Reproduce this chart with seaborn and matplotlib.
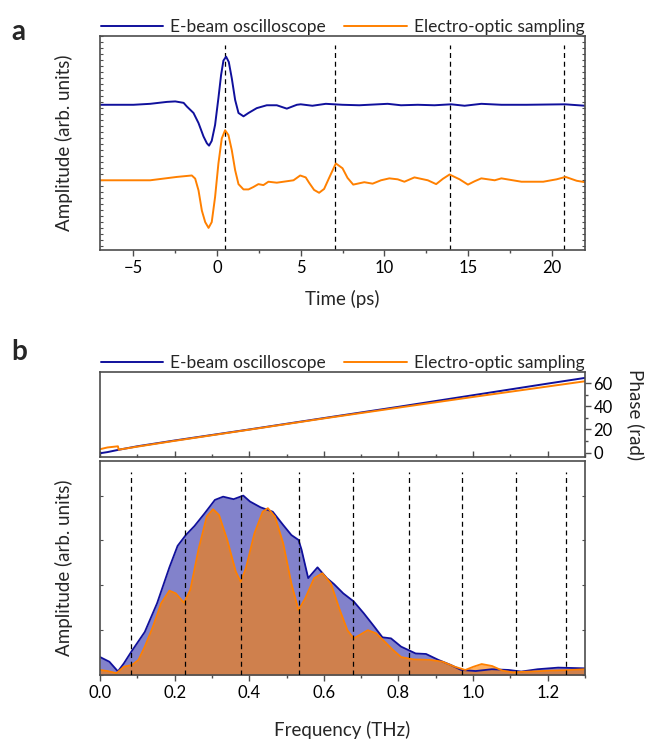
"""THz pulse: time traces and spectra, e-beam oscilloscope vs electro-optic sampling."""

import matplotlib
matplotlib.use("Agg")
import matplotlib.pyplot as plt
import numpy as np
import pandas as pd
import seaborn as sns
from matplotlib.ticker import MultipleLocator, NullFormatter

BLUE = "#10109c"
ORANGE = "#ff8000"
SPINE = "#4d4d4d"

# ---- panel a: time traces (ps, arb. amplitude) ----
time_blue = [-7, -5, -4, -3, -2.5, -2.0, -1.81, -1.41, -1.11, -0.81, -0.61, -0.48, -0.32,
             -0.12, 0.08, 0.24, 0.38, 0.54, 0.70, 0.88, 1.08, 1.28, 1.58, 1.88, 2.37, 2.97,
             3.57, 4.17, 4.77, 5.0, 5.7, 6.5, 7.5, 8.5, 10.2, 11.0, 12.0, 13.0, 14.0, 14.8,
             15.8, 17.0, 18.5, 20.8, 22]
amp_blue = [0.0, 0.0, 0.02, 0.06, 0.07, 0.04, -0.035, -0.17, -0.38, -0.66, -0.80, -0.85,
            -0.75, -0.42, 0.14, 0.62, 0.92, 1.0, 0.89, 0.55, 0.10, -0.17, -0.24, -0.17, -0.07,
            -0.01, -0.01, -0.08, 0.0, 0.01, -0.02, 0.02, 0.0, -0.01, 0.02, -0.01, 0.0, -0.01,
            0.01, -0.02, 0.02, 0.0, 0.0, 0.01, -0.02]

time_orange = [-7, -4, -2.4, -1.51, -1.31, -1.11, -0.91, -0.71, -0.51, -0.32, -0.12, 0.08,
               0.28, 0.48, 0.68, 0.88, 1.08, 1.28, 1.58, 1.88, 2.17, 2.47, 2.77, 3.07, 3.57,
               3.97, 4.57, 4.97, 5.3, 5.5, 5.8, 6.1, 6.4, 6.7, 7.1, 7.5, 7.8, 8.14, 8.8, 9.3,
               9.8, 10.3, 10.8, 11.2, 11.8, 12.6, 13.1, 13.5, 13.9, 14.5, 15.0, 15.4, 15.8,
               16.6, 17.0, 18.2, 19.5, 20.3, 20.84, 21.5, 22]
amp_orange = [0.0, 0.0, 0.07, 0.10, 0.035, -0.21, -0.63, -0.87, -0.99, -0.87, -0.35, 0.35,
              0.87, 1.04, 0.94, 0.625, 0.21, -0.08, -0.19, -0.19, -0.14, -0.08, -0.10, -0.03,
              -0.05, -0.03, 0.0, 0.10, 0.06, -0.05, -0.2, -0.26, -0.18, 0.05, 0.35, 0.25, 0.05,
              -0.09, -0.04, -0.07, 0.0, 0.04, 0.02, -0.03, 0.06, 0.0, -0.08, 0.03, 0.12, 0.02,
              -0.09, -0.02, 0.04, 0.0, 0.04, -0.03, -0.03, 0.02, 0.07, -0.01, -0.04]
offset_blue = 1.57
time_markers = [0.5, 7.05, 13.9, 20.76]

# ---- panel b: phase (rad) ----
freq_phase_blue = [0.0, 0.02, 0.05, 0.1, 0.2, 0.4, 0.6, 0.8, 1.0, 1.2, 1.3]
phase_blue = [-0.5, 0.5, 2.5, 5.5, 10.5, 20.0, 29.8, 39.5, 49.5, 59.5, 64.4]
freq_phase_orange = [0.0, 0.02, 0.048, 0.05, 0.1, 0.2, 0.4, 0.6, 0.8, 1.0, 1.2, 1.3]
phase_orange = [3.0, 4.5, 5.5, 2.6, 5.2, 10.2, 19.8, 29.5, 38.8, 48.0, 57.0, 61.5]

# ---- panel b: spectral amplitude ----
freq_blue = [0.0, 0.025, 0.048, 0.064, 0.084, 0.12, 0.153, 0.186, 0.208, 0.23, 0.253, 0.28,
             0.308, 0.33, 0.358, 0.384, 0.402, 0.43, 0.463, 0.491, 0.513, 0.532, 0.54, 0.558,
             0.583, 0.608, 0.627, 0.652, 0.68, 0.707, 0.735, 0.757, 0.78, 0.807, 0.846, 0.874,
             0.907, 0.94, 0.968, 1.007, 1.05, 1.095, 1.129, 1.173, 1.228, 1.3]
spec_blue = [0.10, 0.074, 0.02, 0.065, 0.13, 0.24, 0.40, 0.60, 0.72, 0.78, 0.83, 0.90,
             0.976, 0.994, 0.98, 1.0, 0.967, 0.935, 0.91, 0.836, 0.78, 0.753, 0.70, 0.54,
             0.60, 0.54, 0.507, 0.455, 0.41, 0.344, 0.27, 0.21, 0.204, 0.158, 0.12, 0.117,
             0.084, 0.056, 0.028, 0.022, 0.032, 0.028, 0.019, 0.032, 0.041, 0.037]

freq_orange = [0.0, 0.02, 0.044, 0.064, 0.086, 0.103, 0.12, 0.142, 0.164, 0.186, 0.203, 0.225,
               0.242, 0.264, 0.286, 0.303, 0.319, 0.341, 0.364, 0.377, 0.391, 0.414, 0.436,
               0.45, 0.469, 0.491, 0.513, 0.532, 0.55, 0.574, 0.596, 0.619, 0.641, 0.663, 0.68,
               0.696, 0.718, 0.74, 0.763, 0.785, 0.807, 0.84, 0.885, 0.918, 0.951, 0.979,
               1.001, 1.023, 1.051, 1.079, 1.106, 1.151, 1.206, 1.262, 1.3]
spec_orange = [0.028, 0.022, 0.01, 0.046, 0.056, 0.084, 0.158, 0.27, 0.40, 0.47, 0.455, 0.403,
               0.474, 0.70, 0.883, 0.924, 0.892, 0.753, 0.576, 0.52, 0.595, 0.79, 0.91, 0.93,
               0.883, 0.734, 0.51, 0.362, 0.427, 0.54, 0.567, 0.51, 0.372, 0.25, 0.204, 0.223,
               0.25, 0.232, 0.186, 0.14, 0.10, 0.087, 0.084, 0.074, 0.046, 0.028, 0.046, 0.061,
               0.05, 0.024, 0.015, 0.019, 0.024, 0.028, 0.032]
freq_markers = [0.084, 0.228, 0.378, 0.533, 0.678, 0.827, 0.969, 1.114, 1.249]

LABELS = ["E-beam oscilloscope", "Electro-optic sampling"]

sns.set_theme(style="ticks")
plt.rcParams["font.family"] = ["Lato", "DejaVu Sans"]
plt.rcParams.update({
    "font.size": 12.5,
    "axes.labelsize": 13.5,
    "xtick.labelsize": 12,
    "ytick.labelsize": 12,
    "legend.fontsize": 12.5,
    "axes.edgecolor": SPINE,
    "axes.linewidth": 1.2,
    "xtick.color": SPINE,
    "ytick.color": SPINE,
    "xtick.labelcolor": "black",
    "ytick.labelcolor": "black",
})

fig = plt.figure(figsize=(6.49, 7.41), dpi=100)
left, width = 0.1541, 0.7473
ax_t = fig.add_axes([left, 0.6626, width, 0.2888])
ax_ph = fig.add_axes([left, 0.3833, width, 0.1147])
ax_sp = fig.add_axes([left, 0.0891, width, 0.2888])

dash = (0, (4, 3))
legend_kw = dict(loc="lower left", bbox_to_anchor=(0.0, 1.0, 1.0, 0.1), ncol=2,
                 mode="expand", frameon=False, handlelength=3.6, handletextpad=0.4,
                 borderaxespad=0.05, borderpad=0.0)

# panel a
df_tb = pd.DataFrame({"t": time_blue, "a": np.array(amp_blue) + offset_blue})
df_to = pd.DataFrame({"t": time_orange, "a": amp_orange})
sns.lineplot(data=df_tb, x="t", y="a", ax=ax_t, color=BLUE, lw=1.4, label=LABELS[0])
sns.lineplot(data=df_to, x="t", y="a", ax=ax_t, color=ORANGE, lw=1.4, label=LABELS[1])
for t in time_markers:
    ax_t.axvline(t, ymax=0.96, color="black", lw=0.9, ls=dash, zorder=0)
ax_t.set_xlim(-7, 22)
ax_t.set_ylim(-1.45, 3.0)
ax_t.xaxis.set_major_locator(MultipleLocator(5))
ax_t.xaxis.set_minor_locator(MultipleLocator(2.5))
ax_t.yaxis.set_major_locator(MultipleLocator(0.125))
ax_t.yaxis.set_major_formatter(NullFormatter())
ax_t.tick_params(axis="x", which="major", direction="out", length=4, width=1)
ax_t.tick_params(axis="x", which="minor", direction="out", length=2.5, width=1)
ax_t.tick_params(axis="y", direction="in", length=2.5, width=0.8, left=True, right=True)
ax_t.set_xlabel("Time (ps)", labelpad=10)
ax_t.set_ylabel("Amplitude (arb. units)", labelpad=16)
ax_t.legend(**legend_kw)

# panel b - phase
df_pb = pd.DataFrame({"f": freq_phase_blue, "p": phase_blue})
df_po = pd.DataFrame({"f": freq_phase_orange, "p": phase_orange})
sns.lineplot(data=df_pb, x="f", y="p", ax=ax_ph, color=BLUE, lw=1.4, label=LABELS[0])
sns.lineplot(data=df_po, x="f", y="p", ax=ax_ph, color=ORANGE, lw=1.4, label=LABELS[1])
ax_ph.set_xlim(0, 1.3)
ax_ph.set_ylim(-3.7, 69.5)
ax_ph.xaxis.set_major_locator(MultipleLocator(0.2))
ax_ph.xaxis.set_minor_locator(MultipleLocator(0.1))
ax_ph.xaxis.set_major_formatter(NullFormatter())
ax_ph.yaxis.set_major_locator(MultipleLocator(20))
ax_ph.yaxis.set_minor_locator(MultipleLocator(10))
ax_ph.yaxis.tick_right()
ax_ph.yaxis.set_label_position("right")
ax_ph.tick_params(axis="x", which="major", direction="in", length=4, width=1)
ax_ph.tick_params(axis="x", which="minor", direction="in", length=2.5, width=1)
ax_ph.tick_params(axis="y", which="major", direction="out", length=4, width=1, pad=2)
ax_ph.tick_params(axis="y", which="minor", direction="out", length=2.5, width=1)
ax_ph.set_xlabel("")
ax_ph.set_ylabel("Phase (rad)", rotation=270, va="center", ha="center")
ax_ph.yaxis.set_label_coords(1.105, 0.5)
ax_ph.legend(**legend_kw)

# panel b - amplitude spectra
ax_sp.fill_between(freq_blue, spec_blue, color=BLUE, alpha=0.52, lw=0)
sns.lineplot(x=freq_blue, y=spec_blue, ax=ax_sp, color=BLUE, lw=1.3)
ax_sp.fill_between(freq_orange, spec_orange, color=ORANGE, alpha=0.62, lw=0)
sns.lineplot(x=freq_orange, y=spec_orange, ax=ax_sp, color=ORANGE, lw=1.3)
for f in freq_markers:
    ax_sp.axvline(f, ymax=0.95, color="black", lw=0.9, ls=dash, zorder=3)
ax_sp.set_xlim(0, 1.3)
ax_sp.set_ylim(0, 1.193)
ax_sp.xaxis.set_major_locator(MultipleLocator(0.2))
ax_sp.xaxis.set_minor_locator(MultipleLocator(0.1))
ax_sp.yaxis.set_major_locator(MultipleLocator(0.25))
ax_sp.yaxis.set_major_formatter(NullFormatter())
ax_sp.tick_params(axis="x", which="major", direction="out", length=4, width=1)
ax_sp.tick_params(axis="x", which="minor", direction="out", length=2.5, width=1)
ax_sp.tick_params(axis="y", direction="in", length=2.5, width=0.8, left=True, right=True)
ax_sp.set_xlabel("Frequency (THz)", labelpad=14)
ax_sp.set_ylabel("Amplitude (arb. units)", labelpad=16)

fig.text(0.018, 0.957, "a", fontsize=20, fontweight="bold", va="center")
fig.text(0.018, 0.525, "b", fontsize=20, fontweight="bold", va="center")

fig.savefig("out.png", dpi=100)
